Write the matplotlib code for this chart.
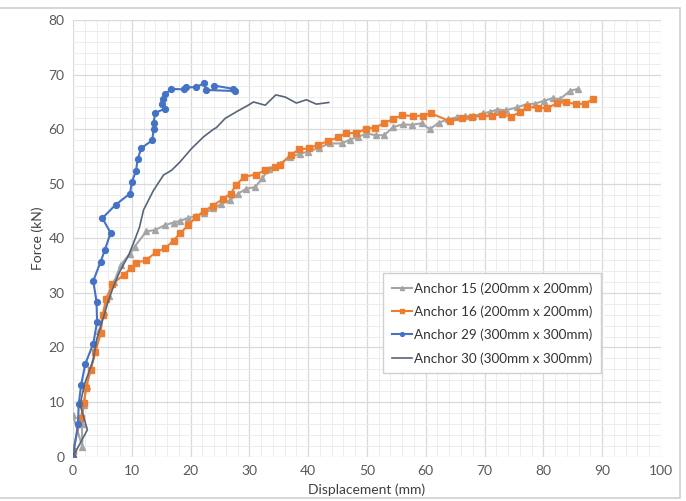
import numpy as np
import matplotlib
matplotlib.use('Agg')
import matplotlib.pyplot as plt
from matplotlib.patches import Rectangle
from matplotlib.ticker import MultipleLocator

plt.rcParams['font.family'] = ['Lato', 'DejaVu Sans']

# Anchor 15 (200mm x 200mm) - grey triangles
a15_x = [0.0, 1.6, 1.5, 1.8, 2.3, 3.0, 3.8, 4.5, 5.2, 6.1, 7.0, 8.1, 9.7, 10.5, 12.5, 13.9,
         15.6, 17.1, 18.2, 19.5, 21.0, 22.3, 23.9, 25.2, 26.7, 28.1, 29.5, 31.0, 32.2, 33.4,
         35.2, 36.9, 38.6, 40.0, 41.8, 43.7, 45.7, 47.1, 48.5, 49.9, 51.6, 52.9, 54.5, 56.1,
         57.6, 59.3, 60.7, 62.2, 63.8, 65.3, 66.7, 68.1, 69.7, 71.0, 72.2, 73.7, 75.5, 77.2,
         78.6, 80.1, 81.6, 82.8, 84.5, 85.9]
a15_y = [7.6, 1.7, 6.0, 9.5, 13.0, 16.0, 19.5, 23.0, 26.5, 29.5, 32.0, 35.1, 37.2, 38.5, 41.3, 41.5,
         42.4, 42.9, 43.2, 43.7, 44.1, 44.6, 45.5, 46.3, 47.0, 48.2, 49.1, 49.4, 51.0, 52.8,
         53.7, 54.9, 55.5, 55.9, 56.6, 57.4, 57.4, 58.1, 58.6, 59.2, 58.9, 58.9, 60.4, 60.9,
         60.8, 61.1, 60.0, 61.2, 61.8, 62.2, 62.4, 62.4, 62.9, 63.2, 63.6, 63.5, 64.0, 64.6,
         64.7, 65.2, 65.7, 65.5, 67.0, 67.4]

# Anchor 16 (200mm x 200mm) - orange squares
a16_x = [0.0, 1.3, 1.9, 2.2, 3.0, 3.8, 4.7, 5.05, 5.6, 6.7, 8.6, 9.8, 10.8, 12.4, 14.2, 15.7,
         17.1, 18.2, 19.6, 20.9, 22.3, 23.8, 25.6, 26.8, 27.8, 29.1, 31.2, 32.7, 34.4, 35.2,
         37.0, 38.5, 40.2, 41.7, 43.4, 45.0, 46.5, 48.2, 49.9, 51.4, 52.9, 54.5, 56.0, 57.8,
         59.6, 60.9, 64.1, 66.1, 67.8, 69.5, 71.2, 72.9, 74.5, 76.0, 77.3, 79.1, 80.7, 82.4,
         83.9, 85.5, 87.1, 88.5]
a16_y = [1.1, 7.0, 9.8, 12.5, 15.9, 19.1, 22.6, 25.9, 28.8, 31.6, 33.3, 34.5, 35.5, 36.0, 37.5, 38.2,
         39.6, 40.9, 42.4, 43.9, 45.0, 46.0, 47.3, 48.2, 49.8, 51.3, 51.7, 52.5, 53.1, 53.4,
         55.3, 56.3, 56.5, 57.2, 57.8, 58.5, 59.3, 59.3, 60.1, 60.3, 61.1, 61.9, 62.6, 62.4,
         62.5, 62.9, 61.5, 62.0, 62.3, 62.4, 62.4, 62.8, 62.3, 63.1, 64.1, 63.9, 63.9, 64.8,
         65.0, 64.6, 64.7, 65.5]

# Anchor 29 (300mm x 300mm) - blue circles
a29_x = [0.0, 0.85, 0.97, 1.4, 2.1, 3.45, 4.1, 4.0, 3.45, 4.7, 5.4, 6.4, 5.0, 7.3, 9.7, 10.0,
         10.7, 11.0, 11.6, 13.5, 13.7, 13.7, 14.0, 15.7, 15.1, 15.3, 15.7, 16.7, 18.9, 19.3,
         21.0, 22.2, 22.7, 27.5, 27.3, 24.0]
a29_y = [0.0, 5.9, 9.6, 13.2, 17.0, 20.7, 24.7, 28.4, 32.2, 35.7, 37.8, 41.0, 43.7, 46.2, 48.2, 50.3,
         52.3, 54.5, 56.5, 58.0, 60.0, 61.2, 63.0, 63.8, 64.6, 65.6, 66.4, 67.4, 67.3, 67.7,
         67.7, 68.4, 67.2, 67.0, 67.4, 68.0]

# Anchor 30 (300mm x 300mm) - plain line
a30_x = [0.0, 2.45, 1.2, 2.0, 3.45, 4.0, 4.9, 6.0, 7.0, 8.0, 9.5, 10.5, 11.3, 12.0, 13.7, 15.4,
         16.8, 18.2, 20.2, 22.2, 23.9, 24.4, 25.9, 27.8, 29.8, 30.7, 32.7, 34.5, 36.1, 38.0,
         39.7, 41.4, 43.5]
a30_y = [0.0, 4.9, 9.5, 13.4, 17.7, 21.4, 24.5, 28.5, 31.5, 34.0, 37.0, 39.7, 42.0, 45.2, 48.8, 51.6,
         52.5, 54.0, 56.5, 58.6, 60.0, 60.3, 62.0, 63.2, 64.4, 65.0, 64.4, 66.3, 65.9, 64.8,
         65.4, 64.6, 64.9]

labels = ['Anchor 15 (200mm x 200mm)', 'Anchor 16 (200mm x 200mm)',
          'Anchor 29 (300mm x 300mm)', 'Anchor 30 (300mm x 300mm)']

fig = plt.figure(figsize=(6.86, 5.01), dpi=100)
ax = fig.add_axes([0.1064, 0.0888, 0.857, 0.871])

# light frame round the chart
fig.patches.append(Rectangle((-0.01, 0.006), 1.0016, 0.978, transform=fig.transFigure,
                             fill=False, edgecolor='#cfcfcf', linewidth=1.2))

ax.plot(a15_x, a15_y, color='#a5a5a5', marker='^', markersize=4.5, linewidth=1.5, label=labels[0])
ax.plot(a16_x, a16_y, color='#ed7d31', marker='s', markersize=4.5, linewidth=1.5, label=labels[1])
ax.plot(a29_x, a29_y, color='#4472c4', marker='o', markersize=4.2, linewidth=1.5, label=labels[2])
ax.plot(a30_x, a30_y, color='#56657a', linewidth=1.2, label=labels[3])

ax.set_xlim(0, 100)
ax.set_ylim(0, 80)
ax.xaxis.set_major_locator(MultipleLocator(10))
ax.yaxis.set_major_locator(MultipleLocator(10))
ax.xaxis.set_minor_locator(MultipleLocator(2))
ax.yaxis.set_minor_locator(MultipleLocator(2))
ax.grid(which='major', color='#d9d9d9', linewidth=0.9)
ax.grid(which='minor', color='#ededed', linewidth=0.7)
ax.set_axisbelow(True)
for s in ax.spines.values():
    s.set_visible(False)
ax.tick_params(which='both', length=0, labelsize=10, colors='#595959', pad=6)

ax.set_xlabel('Displacement (mm)', fontsize=10, color='#404040', labelpad=5)
ax.set_ylabel('Force (kN)', fontsize=10, color='#404040', labelpad=3)

leg = ax.legend(loc='upper left', bbox_to_anchor=(0.527, 0.420), borderaxespad=0,
                fontsize=9.7, frameon=True, fancybox=False, edgecolor='#d0d0d0',
                framealpha=1, handlelength=1.5, handletextpad=0.15, labelspacing=0.8,
                borderpad=0.65, markerscale=0.65)
for t in leg.get_texts():
    t.set_color('#333333')

fig.savefig('out.png', dpi=100)
